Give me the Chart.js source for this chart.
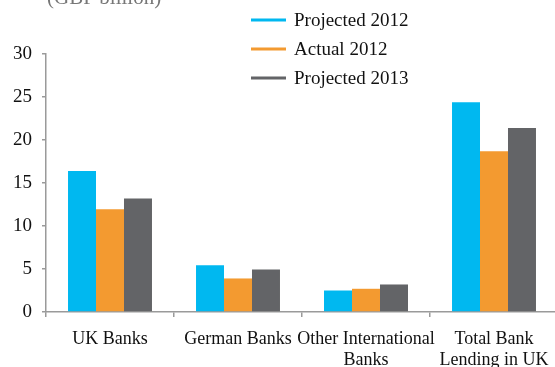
<!DOCTYPE html>
<html>
<head>
<meta charset="utf-8">
<script src="https://cdn.jsdelivr.net/npm/chart.js@4"></script>
<style>
  html, body { margin: 0; padding: 0; background: #fff; overflow: hidden; width: 555px; height: 367px; }
  #wrap { position: relative; width: 560px; height: 367px; }
  #unit { position: absolute; left: 47px; top: -15px; font: 21px "Liberation Serif", serif; color: #777; }
</style>
</head>
<body>
<div id="wrap">
  <canvas id="chart"></canvas>
  <div id="unit">(GBP billion)</div>
</div>
<script>
const categories = [
  'UK Banks',
  'German Banks',
  ['Other International', 'Banks'],
  ['Total Bank', 'Lending in UK']
];
const projected2012 = [16.4, 5.45, 2.5, 24.4];
const actual2012 = [11.95, 3.9, 2.7, 18.7];
const projected2013 = [13.2, 4.95, 3.2, 21.4];

const axisGray = '#9a9a9a';

// legend drawn inside the plot area, top right
const lineLegend = {
  id: 'lineLegend',
  afterDraw(chart) {
    const ctx = chart.ctx;
    ctx.save();
    ctx.font = '19px "Liberation Serif", serif';
    ctx.textBaseline = 'middle';
    chart.data.datasets.forEach((ds, i) => {
      const y = 20 + i * 29;
      ctx.strokeStyle = ds.backgroundColor;
      ctx.lineWidth = 3;
      ctx.beginPath();
      ctx.moveTo(251, y);
      ctx.lineTo(286, y);
      ctx.stroke();
      ctx.fillStyle = '#111';
      ctx.fillText(ds.label, 294, y + 1);
    });
    ctx.restore();
  }
};

new Chart(document.getElementById('chart'), {
  type: 'bar',
  data: {
    labels: categories,
    datasets: [
      { label: 'Projected 2012', data: projected2012, backgroundColor: '#00b8f0' },
      { label: 'Actual 2012', data: actual2012, backgroundColor: '#f39a30' },
      { label: 'Projected 2013', data: projected2013, backgroundColor: '#636467' }
    ]
  },
  options: {
    responsive: true,
    maintainAspectRatio: false,
    animation: false,
    categoryPercentage: 0.656,
    barPercentage: 1,
    layout: { padding: { top: 54, right: 2, left: 0, bottom: 0 } },
    plugins: {
      legend: { display: false },
      tooltip: { enabled: false }
    },
    scales: {
      x: {
        afterFit(scale) { scale.height = 55; },
        border: { color: axisGray, width: 1.5 },
        grid: { drawOnChartArea: false, tickLength: 5, color: axisGray, lineWidth: 1.5 },
        ticks: {
          color: '#111',
          font: { family: '"Liberation Serif", serif', size: 18, lineHeight: 1.2 },
          padding: 11,
          maxRotation: 0,
          autoSkip: false
        }
      },
      y: {
        min: 0,
        max: 30,
        afterFit(scale) { scale.width = 46; },
        border: { color: axisGray, width: 1.5 },
        grid: { drawOnChartArea: false, tickLength: 4, color: axisGray, lineWidth: 1.5 },
        ticks: { stepSize: 5, color: '#111', font: { family: '"Liberation Serif", serif', size: 19 }, padding: 10 }
      }
    }
  },
  plugins: [lineLegend]
});
</script>
</body>
</html>
